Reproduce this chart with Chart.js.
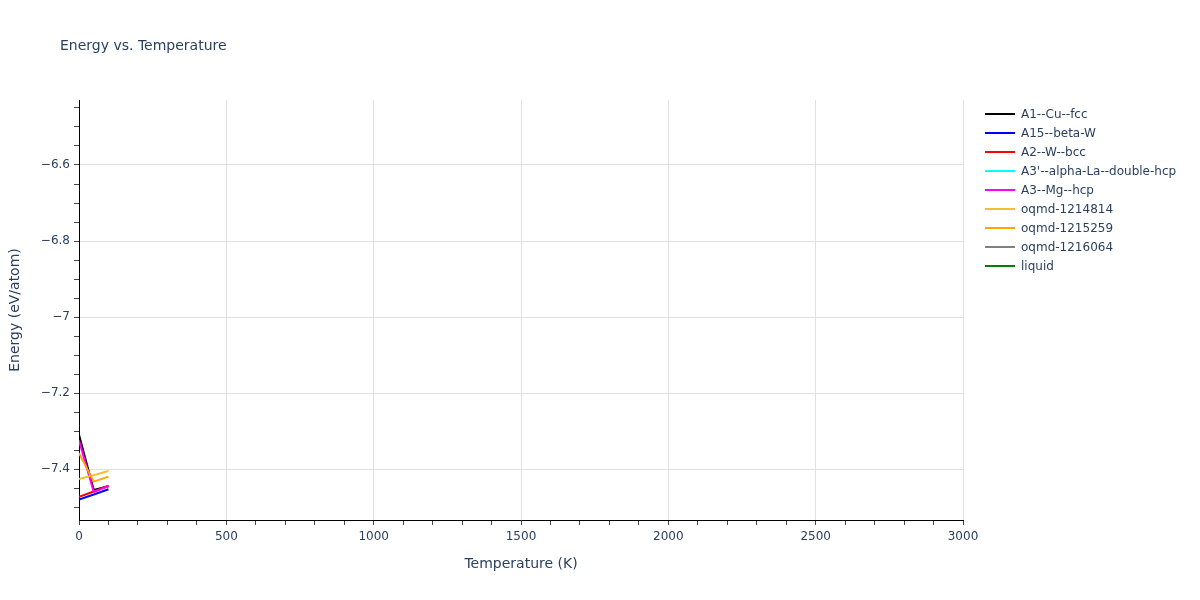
<!DOCTYPE html>
<html>
<head>
<meta charset="utf-8">
<script src="https://cdn.jsdelivr.net/npm/chart.js@4.4.0/dist/chart.umd.min.js"></script>
<style>
  body { margin: 0; background: #fff; font-family: "DejaVu Sans", sans-serif; }
  #wrap { position: relative; width: 1200px; height: 600px; }
  #chart { position: absolute; left: 0; top: 0; }
  #title { position: absolute; left: 60px; top: 37px; font-size: 14px; color: #2a3f5f; white-space: nowrap; }
  #legend { position: absolute; left: 985px; top: 104px; font-size: 12px; color: #2a3f5f; }
  .item { height: 19px; display: flex; align-items: center; white-space: nowrap; }
  .swatch { width: 30px; height: 2px; margin-right: 6px; }
</style>
</head>
<body>
<div id="wrap">
  <canvas id="chart" width="1200" height="600"></canvas>
  <div id="title">Energy vs. Temperature</div>
  <div id="legend"></div>
</div>
<script>
// temperatures (K) and energies (eV/atom)
const temperatures = [0, 50, 100];
const seriesNames = ["A1--Cu--fcc", "A15--beta-W", "A2--W--bcc", "A3'--alpha-La--double-hcp",
  "A3--Mg--hcp", "oqmd-1214814", "oqmd-1215259", "oqmd-1216064", "liquid"];
const seriesColors = ["#000000", "#0000ff", "#ff0000", "#00ffff", "#ff00ff",
  "#f0c030", "#ffa500", "#808080", "#008000"];

const a1CuFcc = [-7.31, -7.455, -7.445];
const a15BetaW = [-7.48, -7.467, -7.453];
const a2WBcc = [-7.473, -7.459, -7.444];
const a3AlphaLa = [];
const a3MgHcp = [-7.325, -7.46, -7.445];
const oqmd1214814 = [-7.426, -7.416, -7.405];
const oqmd1215259 = [-7.358, -7.433, -7.42];
const oqmd1216064 = [];
const liquid = [];

const seriesValues = [a1CuFcc, a15BetaW, a2WBcc, a3AlphaLa, a3MgHcp,
  oqmd1214814, oqmd1215259, oqmd1216064, liquid];

const xMin = 0, xMax = 3000;
const yMin = -7.534, yMax = -6.429;

function isMultiple(v, step) {
  let q = v / step;
  return Math.abs(q - Math.round(q)) < 1e-6;
}

function fmtY(v) {
  let s = String(Number(v.toFixed(2)));
  return s.replace("-", "\u2212");
}

let datasets = seriesNames.map(function (name, i) {
  return {
    label: name,
    data: seriesValues[i].map(function (e, j) { return { x: temperatures[j], y: e }; }),
    borderColor: seriesColors[i],
    backgroundColor: seriesColors[i],
    borderWidth: 2,
    pointRadius: 0,
    tension: 0,
    fill: false,
    order: seriesNames.length - i   // later traces drawn on top, like the original
  };
});

// legend as html
let legend = document.getElementById("legend");
seriesNames.forEach(function (name, i) {
  let row = document.createElement("div");
  row.className = "item";
  row.innerHTML = '<span class="swatch" style="background:' + seriesColors[i] + '"></span>' + name;
  legend.appendChild(row);
});

const tickFont = { family: "'DejaVu Sans', sans-serif", size: 12 };
const titleFont = { family: "'DejaVu Sans', sans-serif", size: 14 };

new Chart(document.getElementById("chart").getContext("2d"), {
  type: "line",
  data: { datasets: datasets },
  options: {
    responsive: false,
    animation: false,
    layout: { padding: { left: 0, top: 100, right: 237, bottom: 20 } },
    plugins: { legend: { display: false }, title: { display: false }, tooltip: { enabled: false } },
    scales: {
      x: {
        type: "linear",
        min: xMin,
        max: xMax,
        afterFit: function (scale) { scale.height = 60; },
        ticks: {
          stepSize: 100,
          autoSkip: false,
          maxTicksLimit: 100,
          maxRotation: 0,
          padding: 5,
          color: "#2a3f5f",
          font: tickFont,
          callback: function (v) { return isMultiple(v, 500) ? String(v) : ""; }
        },
        grid: {
          color: function (ctx) {
            let v = ctx.tick ? ctx.tick.value : 0;
            return (isMultiple(v, 500) && v !== 0) ? "#e0e0e0" : "rgba(0,0,0,0)";
          },
          tickColor: "#444444",
          tickLength: 5,
          drawTicks: true
        },
        border: { display: true, color: "#000000", width: 1 },
        title: { display: true, text: "Temperature (K)", color: "#2a3f5f", font: titleFont, padding: { top: 10, bottom: 7 } }
      },
      y: {
        min: yMin,
        max: yMax,
        afterFit: function (scale) { scale.width = 79; },
        ticks: {
          stepSize: 0.05,
          includeBounds: false,
          autoSkip: false,
          maxTicksLimit: 100,
          padding: 4,
          color: "#2a3f5f",
          font: tickFont,
          callback: function (v) { return isMultiple(v, 0.2) ? fmtY(v) : ""; }
        },
        grid: {
          color: function (ctx) {
            let v = ctx.tick ? ctx.tick.value : 0;
            return isMultiple(v, 0.2) ? "#e0e0e0" : "rgba(0,0,0,0)";
          },
          tickColor: "#444444",
          tickLength: 5,
          drawTicks: true
        },
        border: { display: true, color: "#000000", width: 1 },
        title: { display: true, text: "Energy (eV/atom)", color: "#2a3f5f", font: titleFont, padding: { top: 7, bottom: 4 } }
      }
    }
  }
});
</script>
</body>
</html>
